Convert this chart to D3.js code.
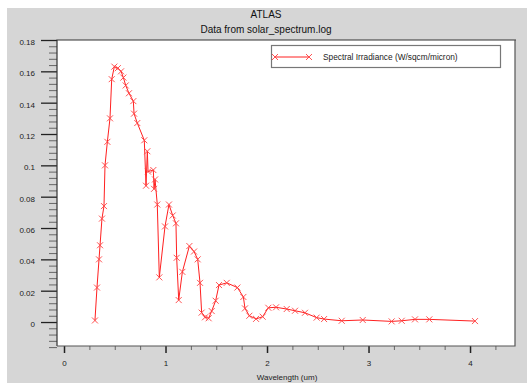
<!DOCTYPE html>
<html>
<head>
<meta charset="utf-8">
<script src="https://cdn.jsdelivr.net/npm/d3@7"></script>
<style>
  body { margin: 0; background: #fff; }
  svg { display: block; font-family: "Liberation Sans", Arial, sans-serif; }
</style>
</head>
<body>
<svg id="chart" width="527" height="383"></svg>
<script>
// wavelength (um) and spectral irradiance (W/sqcm/micron)
const wavelength = [0.305, 0.325, 0.345, 0.355, 0.374, 0.394, 0.404, 0.427, 0.453, 0.470,
  0.496, 0.530, 0.562, 0.585, 0.608, 0.640, 0.683, 0.690, 0.722, 0.791,
  0.808, 0.821, 0.828, 0.880, 0.887, 0.897, 0.919, 0.939, 0.995, 1.034,
  1.071, 1.103, 1.110, 1.130, 1.166, 1.235, 1.281, 1.317, 1.340, 1.356,
  1.389, 1.425, 1.455, 1.494, 1.527, 1.603, 1.708, 1.767, 1.783, 1.826,
  1.892, 1.957, 2.013, 2.089, 2.194, 2.276, 2.374, 2.489, 2.562, 2.736,
  2.943, 3.228, 3.327, 3.458, 3.599, 4.049];
const irradiance = [0.001, 0.022, 0.040, 0.049, 0.066, 0.074, 0.100, 0.115, 0.130, 0.155,
  0.163, 0.162, 0.160, 0.156, 0.151, 0.146, 0.141, 0.133, 0.127, 0.116,
  0.087, 0.109, 0.096, 0.097, 0.085, 0.091, 0.075, 0.0285, 0.061, 0.075,
  0.068, 0.063, 0.041, 0.014, 0.032, 0.0485, 0.045, 0.040, 0.025, 0.006,
  0.003, 0.0024, 0.007, 0.0136, 0.0236, 0.025, 0.022, 0.016, 0.0087, 0.004,
  0.002, 0.0034, 0.0091, 0.0094, 0.0083, 0.0072, 0.0059, 0.0028, 0.0019, 0.0008,
  0.0013, 0.0004, 0.0008, 0.0017, 0.0017, 0.0006];
const xTicks = [0, 1, 2, 3, 4];
const yTicks = [0, 0.02, 0.04, 0.06, 0.08, 0.1, 0.12, 0.14, 0.16, 0.18];

const svg = d3.select("#chart");
const plot = { left: 57, top: 40, right: 515, bottom: 346 };

const data = wavelength.map((w, i) => ({ w, v: irradiance[i] }));

// gray backdrop
svg.append("rect")
  .attr("x", 7).attr("y", 8)
  .attr("width", 527 - 7).attr("height", 383 - 8)
  .attr("fill", "#d6d6d6");

const x = d3.scaleLinear().domain([-0.069, 4.443]).range([plot.left, plot.right]);
const y = d3.scaleLinear().domain([-0.0153, 0.18]).range([plot.bottom, plot.top]);

// plot area
svg.append("rect")
  .attr("x", plot.left).attr("y", plot.top)
  .attr("width", plot.right - plot.left).attr("height", plot.bottom - plot.top)
  .attr("fill", "#fff");

// y axis: majors + minors
const yMinor = d3.range(-0.016, 0.18, 0.004).filter(t => Math.abs(Math.round(t / 0.02) * 0.02 - t) > 1e-6);
svg.append("g")
  .attr("transform", `translate(${plot.left},0)`)
  .call(d3.axisLeft(y).tickValues(yMinor).tickSize(8).tickFormat(""))
  .call(g => g.select(".domain").remove())
  .selectAll("line").attr("stroke", "#666");

svg.append("g")
  .attr("transform", `translate(${plot.left},0)`)
  .call(d3.axisLeft(y).tickValues(yTicks).tickSize(16).tickPadding(6).tickFormat(d => d3.format("")(+d.toFixed(2))))
  .call(g => g.select(".domain").remove())
  .call(g => g.selectAll("line").attr("stroke", "#222").attr("stroke-width", 1.3))
  .call(g => g.selectAll("text").attr("dy", "0.55em").attr("fill", "#222").style("font-size", "8px"));

// x axis: majors + minors
const xMinor = d3.range(0.25, 4.4, 0.25).filter(t => t % 1 !== 0);
svg.append("g")
  .attr("transform", `translate(0,${plot.bottom})`)
  .call(d3.axisBottom(x).tickValues(xMinor).tickSize(4).tickFormat(""))
  .call(g => g.select(".domain").remove())
  .selectAll("line").attr("stroke", "#666");

svg.append("g")
  .attr("transform", `translate(0,${plot.bottom})`)
  .call(d3.axisBottom(x).tickValues(xTicks).tickSize(7).tickPadding(7).tickFormat(d3.format("d")))
  .call(g => g.select(".domain").remove())
  .call(g => g.selectAll("line").attr("stroke", "#222").attr("stroke-width", 1.5))
  .call(g => g.selectAll("text").attr("fill", "#222").style("font-size", "8px"));

// frame
svg.append("path")
  .attr("d", `M${plot.left},${plot.bottom}V${plot.top}H${plot.right + 1}`)
  .attr("fill", "none").attr("stroke", "#333").attr("stroke-width", 1.2);
svg.append("path")
  .attr("d", `M${plot.left},${plot.bottom}H${plot.right}V${plot.top}`)
  .attr("fill", "none").attr("stroke", "#555").attr("stroke-width", 1.2);

// series
const line = d3.line().x(d => x(d.w)).y(d => y(d.v));
svg.append("path")
  .datum(data)
  .attr("d", line)
  .attr("fill", "none")
  .attr("stroke", "#ff2020")
  .attr("stroke-width", 1);

const s = 3;
svg.append("g").selectAll("path")
  .data(data)
  .join("path")
  .attr("d", d => {
    const cx = x(d.w), cy = y(d.v);
    return `M${cx - s},${cy - s}L${cx + s},${cy + s}M${cx - s},${cy + s}L${cx + s},${cy - s}`;
  })
  .attr("stroke", "#ff4040")
  .attr("stroke-width", 0.9)
  .attr("fill", "none");

// titles
svg.append("text")
  .attr("x", 266).attr("y", 18)
  .attr("text-anchor", "middle")
  .style("font-size", "10px").attr("fill", "#111")
  .text("ATLAS");
svg.append("text")
  .attr("x", 266).attr("y", 33)
  .attr("text-anchor", "middle")
  .style("font-size", "10px").attr("fill", "#111")
  .text("Data from solar_spectrum.log");

svg.append("text")
  .attr("x", 287).attr("y", 380)
  .attr("text-anchor", "middle")
  .style("font-size", "8px").attr("fill", "#222")
  .text("Wavelength (um)");

// legend
const lg = svg.append("g");
lg.append("rect")
  .attr("x", 271.5).attr("y", 45.5).attr("width", 229).attr("height", 22)
  .attr("fill", "#fff").attr("stroke", "#777").attr("stroke-width", 1.2);
lg.append("line")
  .attr("x1", 275).attr("x2", 309).attr("y1", 57).attr("y2", 57)
  .attr("stroke", "#ff2020");
[275, 309].forEach(cx => {
  lg.append("path")
    .attr("d", `M${cx - s},${57 - s}L${cx + s},${57 + s}M${cx - s},${57 + s}L${cx + s},${57 - s}`)
    .attr("stroke", "#ff4040").attr("stroke-width", 0.9);
});
lg.append("text")
  .attr("x", 323).attr("y", 60)
  .style("font-size", "8.3px").attr("fill", "#222")
  .text("Spectral Irradiance (W/sqcm/micron)");
</script>
</body>
</html>
